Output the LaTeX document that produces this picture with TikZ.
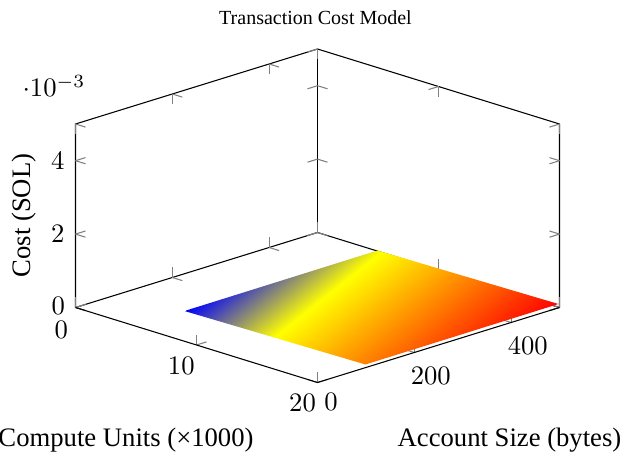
\documentclass[tikz,border=0pt]{standalone}
\usepackage[no-math]{fontspec}
\setmainfont{Liberation Serif}
\pgfdeclarehorizontalshading{hotmap}{100bp}{color(0bp)=(blue); color(33.333bp)=(yellow); color(66.667bp)=(orange); color(100bp)=(red)}
\begin{document}
\begin{tikzpicture}[x=0.375pt,y=-0.375pt,
  edge/.style={black, line width=0.4pt},
  tickmark/.style={gray, line width=0.4pt},
  ticklabel/.style={font=\fontsize{10}{12}\selectfont, inner sep=0pt},
  axlabel/.style={font=\fontsize{10}{12}\selectfont, inner sep=0pt}]
\useasboundingbox (0,0) rectangle (625,456);
% box corners
\coordinate (L) at (75.5,307.5);
\coordinate (F) at (317.5,382.5);
\coordinate (B) at (317.5,232.5);
\coordinate (R) at (559.5,307.5);
\coordinate (Lt) at (75.5,124);
\coordinate (Bt) at (317.5,49);
\coordinate (Rt) at (559.5,124);
% back edges
\draw[edge] (L) -- (B) -- (R);
\draw[edge] (L) -- (Lt) -- (Bt) -- (Rt) -- (R);
\draw[edge] (B) -- (Bt);
% z ticks
\foreach \k in {0,1,2}{
  \draw[tickmark] (75.5,307.5-73.4*\k) -- ++(10,3.1);
  \draw[tickmark] (75.5,307.5-73.4*\k) -- ++(10,-3.1);
  \draw[tickmark] (317.5,232.5-73.4*\k) -- ++(10,3.1);
  \draw[tickmark] (317.5,232.5-73.4*\k) -- ++(-10,3.1);
  \draw[tickmark] (559.5,307.5-73.4*\k) -- ++(-10,-3.1);
  \draw[tickmark] (559.5,307.5-73.4*\k) -- ++(-10,3.1);
}
% x ticks
\foreach \k in {0,1,2}{
  \draw[tickmark] (75.5+121*\k,307.5+37.5*\k) -- ++(0,-10.5);
  \draw[tickmark] (75.5+121*\k,307.5+37.5*\k) -- ++(10,-3.1);
  \draw[tickmark] (317.5+121*\k,232.5+37.5*\k) -- ++(0,-10.5);
  \draw[tickmark] (317.5+121*\k,232.5+37.5*\k) -- ++(-10,3.1);
  \draw[tickmark] (317.5+121*\k,49+37.5*\k) -- ++(0,10.5);
  \draw[tickmark] (317.5+121*\k,49+37.5*\k) -- ++(-10,3.1);
}
% y ticks
\foreach \k in {0,1,2}{
  \draw[tickmark] (317.5+96.8*\k,382.5-30*\k) -- ++(0,-10.5);
  \draw[tickmark] (317.5+96.8*\k,382.5-30*\k) -- ++(-10,-3.1);
  \draw[tickmark] (75.5+96.8*\k,307.5-30*\k) -- ++(0,-10.5);
  \draw[tickmark] (75.5+96.8*\k,307.5-30*\k) -- ++(10,3.1);
  \draw[tickmark] (75.5+96.8*\k,124-30*\k) -- ++(0,10.5);
  \draw[tickmark] (75.5+96.8*\k,124-30*\k) -- ++(10,3.1);
}
% surface
\coordinate (S1) at (184.5,311);
\coordinate (S2) at (377.5,250.5);
\coordinate (S3) at (558.5,304);
\coordinate (S4) at (365.5,364.5);
\begin{scope}
  \clip (S1) -- (S2) -- (S3) -- (S4) -- cycle;
  \node[inner sep=0pt, outer sep=0pt, anchor=west, rotate=-51.54, xscale=0.85517, yscale=3] (surf) at (S1) {\pgfuseshading{hotmap}};
\end{scope}
% front edges
\draw[edge] (L) -- (F) -- (R);
% tick labels
\node[ticklabel, anchor=east] (z0) at (65.5,305.5) {$0$};
\node[ticklabel, anchor=east] (z2) at (65,234.2) {$2$};
\node[ticklabel, anchor=east] (z4) at (65,160.7) {$4$};
\node[ticklabel, anchor=base west] (zexp) at (22,96.7) {$\cdot 10^{-3}$};
\node[ticklabel] (x0) at (61.2,329.5) {$0$};
\node[ticklabel] (x10) at (181.3,365.5) {$10$};
\node[ticklabel] (x20) at (302.5,403.3) {$20$};
\node[ticklabel] (y0) at (331,402.4) {$0$};
\node[ticklabel] (y200) at (430.8,375.8) {$200$};
\node[ticklabel] (y400) at (527.8,345.8) {$400$};
% axis labels
\node[axlabel, anchor=base] (xlab) at (126,446) {Compute Units (×1000)};
\node[axlabel, anchor=base] (ylab) at (509.5,446) {Account Size (bytes)};
\node[axlabel, anchor=base, rotate=90] (zlab) at (30,215.5) {Cost (SOL)};
\node[inner sep=0pt, anchor=base, font=\fontsize{7.5}{9}\selectfont] (title) at (315.5,24.3) {Transaction Cost Model};
\end{tikzpicture}
\end{document}
